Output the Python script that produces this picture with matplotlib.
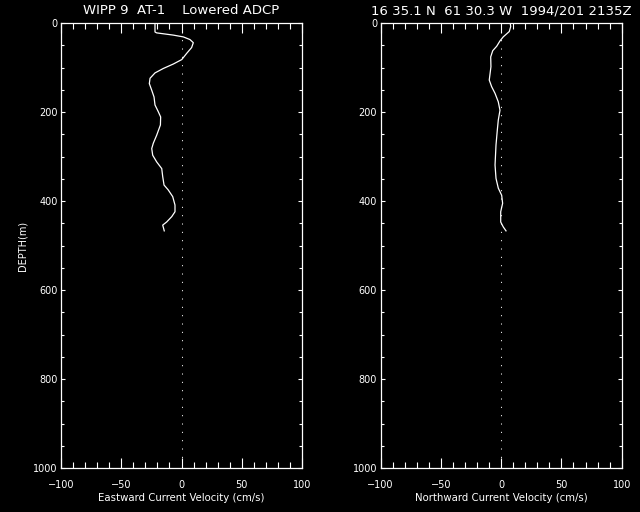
import numpy as np
import matplotlib
matplotlib.use("Agg")
import matplotlib.pyplot as plt
from matplotlib.ticker import MultipleLocator

# eastward (u) profile
u_depth = [0, 20, 22, 27, 31, 37, 44, 55, 68, 82, 92, 102, 112, 124, 136,
           151, 166, 184, 199, 211, 229, 252, 270, 282, 297, 312, 327, 345,
           364, 375, 390, 409, 424, 435, 447, 454, 467]
u_vel = [-22.0, -22.0, -20.6, -6.8, 1.5, 7.0, 9.8, 8.4, 4.3, 0.2, -6.8,
         -15.1, -22.0, -26.1, -26.7, -24.7, -22.8, -22.0, -19.3, -17.3,
         -17.5, -20.6, -23.4, -24.7, -23.9, -20.6, -16.4, -15.6, -14.5,
         -11.0, -7.3, -5.4, -5.4, -8.1, -12.3, -15.6, -14.3]

# northward (v) profile
v_depth = [0, 8, 19, 31, 40, 52, 62, 76, 98, 128, 143, 158, 177, 196, 218,
           240, 274, 319, 349, 371, 387, 405, 424, 447, 458, 467]
v_vel = [7.5, 7.9, 6.7, 1.7, -1.0, -3.7, -7.0, -8.7, -8.5, -9.9, -7.9,
         -5.1, -2.4, -1.0, -2.4, -3.2, -4.3, -5.1, -4.3, -2.4, 0.4, 1.2,
         -0.4, -0.4, 1.7, 4.0]

titles = ["WIPP 9  AT-1    Lowered ADCP",
          "16 35.1 N  61 30.3 W  1994/201 2135Z"]
xlabels = ["Eastward Current Velocity (cm/s)",
           "Northward Current Velocity (cm/s)"]

fg = "white"
fig = plt.figure(figsize=(6.4, 5.12), dpi=100, facecolor="black")
ax1 = fig.add_axes([0.0953, 0.0859, 0.3766, 0.869])
ax2 = fig.add_axes([0.5948, 0.0859, 0.3766, 0.869])

for ax, vel, dep, title, xl in [(ax1, u_vel, u_depth, titles[0], xlabels[0]),
                                (ax2, v_vel, v_depth, titles[1], xlabels[1])]:
    ax.set_facecolor("black")
    ax.plot(vel, dep, color=fg, lw=0.9)
    ax.plot([0, 0], [0, 1000], color=fg, lw=0.75, linestyle=(0, (1, 7)))
    ax.set_xlim(-100, 100)
    ax.set_ylim(1000, 0)
    ax.xaxis.set_major_locator(MultipleLocator(50))
    ax.xaxis.set_minor_locator(MultipleLocator(10))
    ax.yaxis.set_major_locator(MultipleLocator(200))
    ax.yaxis.set_minor_locator(MultipleLocator(50))
    ax.tick_params(axis="both", which="both", direction="in", colors=fg,
                   top=True, right=True, labelsize=7, width=0.8)
    ax.tick_params(axis="x", which="major", length=7.2, pad=8.5)
    ax.tick_params(axis="x", which="minor", length=4)
    ax.tick_params(axis="y", which="major", length=3.2, pad=2.5)
    ax.tick_params(axis="y", which="minor", length=2)
    for s in ax.spines.values():
        s.set_color(fg)
        s.set_linewidth(0.9)
    ax.set_title(title, color=fg, fontsize=9.5, pad=6.5)
    ax.set_xlabel(xl, color=fg, fontsize=7.3, labelpad=2)

ax1.set_ylabel("DEPTH(m)", color=fg, fontsize=7, labelpad=4)

fig.savefig("out.png", dpi=100, facecolor="black")
